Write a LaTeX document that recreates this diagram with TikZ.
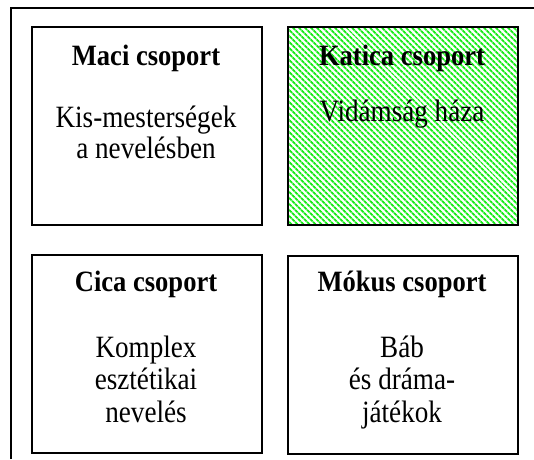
\documentclass[tikz,border=0pt]{standalone}
\usepackage{fontspec}
\setmainfont{Liberation Serif}[FakeStretch=0.875, BoldFeatures={FakeStretch=0.9}]
\usetikzlibrary{patterns.meta}
\definecolor{stripegreen}{RGB}{25,235,25}
\begin{document}
\begin{tikzpicture}[x=1pt,y=-1pt,
  frame/.style={line width=2pt},
  groupbox/.style={draw, line width=2.2pt, minimum width=230pt, minimum height=198pt, inner sep=0pt, anchor=north west},
  striped/.style={pattern={Lines[angle=-45,distance=4pt,line width=2pt]}, pattern color=stripegreen},
  titletext/.style={font=\fontsize{29.5}{33}\selectfont\bfseries, anchor=base, inner sep=0pt},
  bodytext/.style={font=\fontsize{31}{34}\selectfont, anchor=base, inner sep=0pt}]
\useasboundingbox (0,0) rectangle (534,459);
% outer frame (only top and left edges visible)
\coordinate (fa) at (11,459);
\coordinate (fb) at (11,7.5);
\coordinate (fc) at (534,7.5);
\draw[frame] (fa) -- (fb) -- (fc);
% boxes
\node[groupbox] (maci) at (31,26) {};
\node[groupbox, striped] (katica) at (287,26) {};
\node[groupbox] (cica) at (31,254) {};
\node[groupbox] (mokus) at (287,254.5) {};
% Maci
\node[titletext] (macit) at (146,65) {Maci csoport};
\node[bodytext] (maci1) at (146,127) {Kis-mesterségek};
\node[bodytext] (maci2) at (146,158) {a nevelésben};
% Katica
\node[titletext] (katicat) at (402,65) {Katica csoport};
\node[bodytext] (katica1) at (402,121) {Vidámság háza};
% Cica
\node[titletext] (cicat) at (146,291) {Cica csoport};
\node[bodytext] (cica1) at (146,357) {Komplex};
\node[bodytext] (cica2) at (146,389.5) {esztétikai};
\node[bodytext] (cica3) at (146,422.5) {nevelés};
% Mokus
\node[titletext] (mokust) at (402,291) {Mókus csoport};
\node[bodytext] (mokus1) at (402,357) {Báb};
\node[bodytext] (mokus2) at (402,389.5) {és dráma-};
\node[bodytext] (mokus3) at (402,422.5) {játékok};
\end{tikzpicture}
\end{document}
